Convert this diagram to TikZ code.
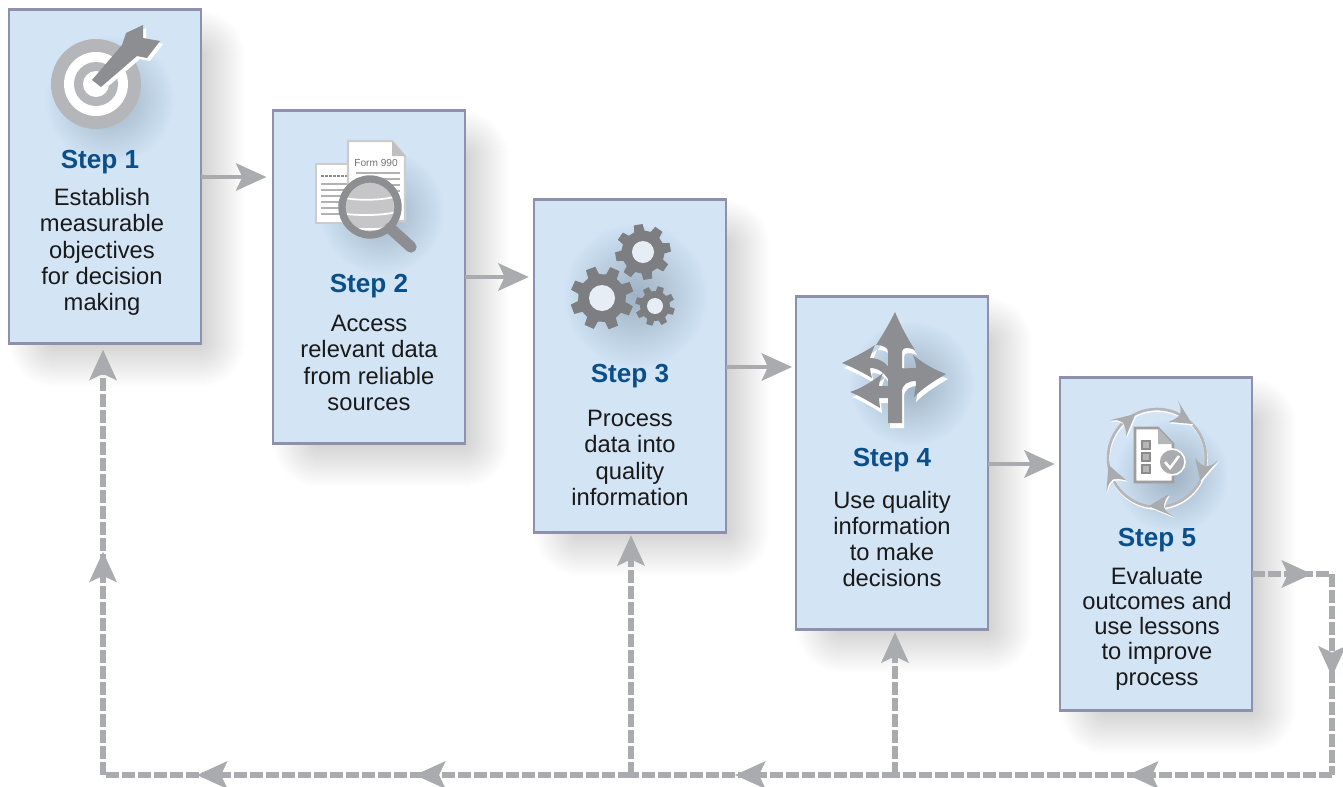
\documentclass[tikz,border=0pt]{standalone}
\usepackage{fontspec}
\setmainfont{Liberation Sans}
\usetikzlibrary{arrows.meta,decorations.markings}
\definecolor{boxfill}{HTML}{D3E4F5}
\definecolor{boxline}{HTML}{8F90AE}
\definecolor{stepblue}{HTML}{0B4F8A}
\definecolor{flowgrey}{HTML}{A9ABAE}
\definecolor{icondark}{HTML}{8D8E91}
\definecolor{iconmid}{HTML}{B5B6B9}
\definecolor{gearcol}{HTML}{7D7E82}
\definecolor{holecol}{HTML}{E6EDF4}
\definecolor{blobcol}{HTML}{4F6F8F}
\definecolor{lenscol}{HTML}{C6C6C8}
\newcommand\boxshade[4]{%
  \foreach \m in {0,1,...,44}{%
    \pgfmathsetmacro\rc{\m*0.75+1}%
    \fill[black,opacity=.0045,rounded corners=\rc pt]
      (#1+44-\m,#2+44-\m) rectangle (#3+\m,#4+\m);
  }%
}
\newcommand\softblob[3]{%
  \foreach \q in {0.04,0.08,...,1.01}{%
    \fill[blobcol,opacity=.016] (#1,#2) circle[radius=#3*\q];
  }%
}
\newcommand\gearshape[7]{% x y rout rroot rhole rot fill
  \begin{scope}[shift={(#1,#2)}]
    \fill[gearcol] (#6-14:#4)
      \foreach \k in {0,...,7}{
        -- (#6+\k*45-14:#4) -- (#6+\k*45-9:#3) -- (#6+\k*45+9:#3) -- (#6+\k*45+14:#4)
      } -- cycle;
    \fill[holecol] (0,0) circle[radius=#5];
  \end{scope}
}
\newcommand\cyclehead[1]{%
  \fill (#1:49) -- (#1-26:61) .. controls (#1-20:55) .. (#1-18:49) .. controls (#1-20:44) .. (#1-28:38) -- cycle;
}
\newcommand\roadshape{%
  \fill (888,423) -- (888,352) .. controls (888,348) and (884,345) .. (876,345)
    .. controls (884,333) and (890,322) .. (895,312)
    .. controls (900,324) and (907,338) .. (915,350)
    .. controls (908,347) and (902,347) .. (902,352) -- (902,368)
    .. controls (904,369) and (908,368) .. (916,368)
    .. controls (916,364) and (915,360) .. (913,355)
    .. controls (924,364) and (935,370) .. (946,374)
    .. controls (934,381) and (923,388) .. (914,397)
    .. controls (915,391) and (916,386) .. (916,381)
    .. controls (908,381) and (902,384) .. (902,392) -- (902,423) -- cycle;
  \fill (842,363) .. controls (852,358) and (865,352) .. (875,345)
    .. controls (873,350) and (871,354) .. (870,358)
    .. controls (880,358) and (890,364) .. (892,376) -- (892,386)
    .. controls (886,374) and (880,368) .. (870,368)
    .. controls (870,371) and (871,374) .. (872,378)
    .. controls (862,372) and (852,367) .. (842,363) -- cycle;
  \fill (850,392) .. controls (862,388) and (873,381) .. (883,373)
    .. controls (881,378) and (879,382) .. (879,386) -- (892,386) -- (892,398) -- (879,398)
    .. controls (879,402) and (880,405) .. (880,408)
    .. controls (870,402) and (860,396) .. (850,392) -- cycle;
}
\tikzset{
  headtip/.tip={Stealth[length=23pt,width=21pt,inset=5pt,line width=0pt]},
  stepbox/.style={draw=boxline,fill=boxfill,line width=2.2pt,minimum width=144pt,minimum height=250pt,inner sep=0pt,outer sep=0pt},
  steplabel/.style={font=\bfseries\fontsize{19.6pt}{22pt}\selectfont,text=stepblue,inner sep=0pt},
  bodytext/.style={font=\fontsize{17.8pt}{19.7pt}\selectfont,align=center,text=black!90,inner sep=0pt},
  flow/.style={draw=flowgrey,line width=2.6pt,-{headtip}},
  backline/.style={draw=flowgrey,line width=4pt,dash pattern=on 9.4pt off 2.6pt},
  backend/.style={backline,-{headtip}},
  midtip/.style={postaction={decorate,decoration={markings,mark=at position #1 with {\arrow[solid,color=flowgrey]{headtip}}}}},
}
\begin{document}
\begin{tikzpicture}[x=0.75pt,y=-0.75pt]
\useasboundingbox (0,0) rectangle (1343,786);
\fill[white] (0,0) rectangle (1343,786);
% soft shadows of the boxes
\boxshade{9}{10}{201}{343}
\boxshade{273}{111}{465}{443}
\boxshade{534}{200}{726}{532}
\boxshade{796}{297}{988}{629}
\boxshade{1060}{378}{1252}{710}
% boxes
\node[stepbox] (s1) at (105,176.5) {};
\node[stepbox] (s2) at (369,277) {};
\node[stepbox] (s3) at (630,366) {};
\node[stepbox] (s4) at (892,463) {};
\node[stepbox] (s5) at (1156,544) {};
% icon 1: target
\softblob{110}{100}{64}
\fill[iconmid] (96,84) circle[radius=45];
\fill[white] (96,84) circle[radius=32];
\fill[iconmid] (96,84) circle[radius=22];
\fill[white] (96,84) circle[radius=13];
\begin{scope}[shift={(3,3)}]
  \fill[white] (92,80) -- (122,45) -- (126,33) -- (143,25) -- (143,38) -- (160,41) -- (147,58) -- (137,56) -- (101,87) -- cycle;
\end{scope}
\fill[icondark] (92,80) -- (122,45) -- (126,33) -- (143,25) -- (143,38) -- (160,41) -- (147,58) -- (137,56) -- (101,87) -- cycle;
% icon 2: forms and magnifier
\softblob{382}{212}{62}
\draw[fill=white,draw=black!20,line width=1.6pt] (316,164) rectangle (350,223);
\foreach \yy in {184,190,196,202,208,214}{\draw[black!30,line width=1.2pt] (321,\yy) -- (350,\yy);}
\draw[black!45,line width=.8pt,dash pattern=on 2pt off 1pt] (321,176) -- (348,176);
\draw[fill=white,draw=black!20,line width=1.6pt] (348,221) -- (348,141) -- (392,141) -- (405,156) -- (405,221) -- cycle;
\fill[black!25] (392,141) -- (405,156) -- (392,156) -- cycle;
\node[font=\fontsize{7.6pt}{9pt}\selectfont,text=black!55,inner sep=0pt] (formtext) at (376,163) {Form 990};
\foreach \yy in {173,179,185,191,197,203,209,215}{\draw[black!30,line width=1.2pt] (356,\yy) -- (400,\yy);}
\fill[lenscol] (370,207) circle[radius=30];
\begin{scope}
  \clip (370,207) circle[radius=27];
  \draw[white,line width=1.3pt] (340,197) .. controls (355,201) and (385,201) .. (400,195);
  \draw[white,line width=1.3pt] (340,213) .. controls (355,216) and (385,216) .. (400,211);
  \draw[white,line width=1.6pt] (340,228) .. controls (355,230) and (385,230) .. (400,226);
\end{scope}
\draw[icondark,line width=5.5pt] (370,207) circle[radius=28];
\draw[icondark,line width=8.5pt,line cap=round] (390,228) -- (411,247);
% icon 3: gears
\softblob{636}{296}{72}
\gearshape{602}{298}{32}{24}{13}{24}{}
\gearshape{643}{252}{28}{21.5}{11}{35}{}
\gearshape{655}{306}{20}{15}{8}{17}{}
% icon 4: road arrows
\softblob{912}{384}{62}
\begin{scope}[shift={(2,5)},white]\roadshape\end{scope}
\begin{scope}[icondark]\roadshape\end{scope}
% icon 5: cycle with checklist
\softblob{1172}{476}{56}
\draw[white,line width=2pt] (1157.5,459.5) circle[radius=49];
\draw[iconmid,line width=2pt] (1157,458) circle[radius=49];
\begin{scope}[shift={(1158,459.5)},white]
  \foreach \aa in {-116,-44,28,100,172}{\cyclehead{\aa}}
\end{scope}
\begin{scope}[shift={(1157,458)},flowgrey]
  \foreach \aa in {-116,-44,28,100,172}{\cyclehead{\aa}}
\end{scope}
\draw[fill=white,draw=black!38,line width=1.9pt,line join=miter] (1135,428) -- (1158,428) -- (1173,444) -- (1173,482) -- (1135,482) -- cycle;
\fill[iconmid] (1158,428) -- (1173,444) -- (1158,444) -- cycle;
\foreach \yy in {445,457,469}{
  \draw[fill=iconmid,draw=black!45,line width=1.4pt] (1142,\yy-4) rectangle (1150,\yy+4);
}
\draw[fill=flowgrey,draw=white,line width=1.2pt] (1172,462) circle[radius=13];
\draw[white,line width=1.9pt] (1165,462) -- (1170,468) -- (1179,456);
% texts
\node[steplabel] (l1) at (100,162.5) {Step 1};
\node[bodytext] (t1) at (102,252) {Establish\\measurable\\objectives\\for decision\\making};
\node[steplabel] (l2) at (369,286.5) {Step 2};
\node[bodytext] (t2) at (369,363) {Access\\relevant data\\from reliable\\sources};
\node[steplabel] (l3) at (630,376.5) {Step 3};
\node[bodytext] (t3) at (630,458) {Process\\data into\\quality\\information};
\node[steplabel] (l4) at (892,460.5) {Step 4};
\node[bodytext] (t4) at (892,539) {Use quality\\information\\to make\\decisions};
\node[steplabel] (l5) at (1157,540.5) {Step 5};
\node[bodytext,font=\fontsize{17.8pt}{18.9pt}\selectfont] (t5) at (1157,628.5) {Evaluate\\outcomes and\\use lessons\\to improve\\process};
% solid connectors
\coordinate (e12) at (0,177);
\coordinate (e23) at (0,277);
\coordinate (e34) at (0,367);
\coordinate (e45) at (0,464);
\draw[flow,shorten >=5pt] (s1.east |- e12) -- (s2.west |- e12);
\draw[flow,shorten >=4pt] (s2.east |- e23) -- (s3.west |- e23);
\draw[flow,shorten >=3pt] (s3.east |- e34) -- (s4.west |- e34);
\draw[flow,shorten >=4pt] (s4.east |- e45) -- (s5.west |- e45);
% dashed feedback route
\coordinate (c1) at (1332,574);
\coordinate (c2) at (1332,775);
\coordinate (j4) at (895,775);
\coordinate (j3) at (631,775);
\coordinate (c3) at (103,775);
\draw[backline,midtip=.75] (s5.east |- c1) -- (c1);
\draw[backline,midtip=.51] (c1) -- (c2);
\draw[backline,midtip=.467] (c2) -- (j4);
\draw[backline,midtip=.606] (j4) -- (j3);
\draw[backline,midtip=.409,midtip=.822] (j3) -- (c3);
\draw[backend,midtip=.517,shorten >=5pt] (c3) -- (c3 |- s1.south);
\draw[backend,shorten >=2pt] (j3) -- (j3 |- s3.south);
\draw[backend,shorten >=2pt] (j4) -- (j4 |- s4.south);
\end{tikzpicture}
\end{document}
